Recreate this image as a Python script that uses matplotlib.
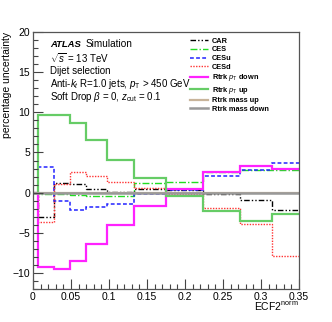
import matplotlib
matplotlib.use("Agg")
import matplotlib.pyplot as plt
from matplotlib.lines import Line2D
from matplotlib.ticker import MultipleLocator
import numpy as np

plt.rcParams['font.family'] = ['Liberation Sans', 'DejaVu Sans']
plt.rcParams['mathtext.fontset'] = 'custom'
plt.rcParams['mathtext.rm'] = 'Liberation Sans'
plt.rcParams['mathtext.it'] = 'Liberation Sans:italic'
plt.rcParams['mathtext.bf'] = 'Liberation Sans:bold'

# bin edges of ECF2^norm and per-bin percentage uncertainties
edges = [0, 0.007, 0.028, 0.049, 0.07, 0.098, 0.133, 0.175, 0.224, 0.273, 0.315, 0.35]
car = [0, -3.0, 1.25, 1.05, 0.5, 0.05, 0.4, 0.35, -0.12, -0.95, -2.2]
ces = [0, -0.17, -0.2, -0.33, -0.37, -0.42, 1.17, 1.33, 2.6, 2.8, 2.8]
cesu = [0, 3.2, -1.07, -2.15, -1.75, -1.4, -0.2, 0.33, 2.08, 2.87, 3.74]
cesd = [0, -3.6, 1.05, 2.6, 2.1, 1.37, 0.55, -0.15, -1.95, -3.86, -7.9]
rtrk_pt_down = [0, -9.2, -9.5, -8.5, -6.35, -4.05, -1.65, 0.45, 2.54, 3.33, 3.0]
rtrk_pt_up = [0, 9.7, 9.7, 8.65, 6.5, 4.03, 1.78, -0.42, -2.32, -3.53, -2.66]
rtrk_mass_up = [0] * 11
rtrk_mass_down = [0] * 11

series = [
    ("CAR", car, "black", (0, (4, 1.5, 1, 1.5, 1, 1.5)), 1.0),
    ("CES", ces, "#22dd22", (0, (5, 1.5, 1, 1.5)), 1.0),
    ("CESu", cesu, "#2222ff", (0, (2.5, 1.5)), 1.1),
    ("CESd", cesd, "#ff3333", (0, (1, 1)), 1.0),
    ("Rtrk $p_{\\rm T}$ down", rtrk_pt_down, "#ff22ff", "-", 1.6),
    ("Rtrk $p_{\\rm T}$ up", rtrk_pt_up, "#66cc66", "-", 1.6),
    ("Rtrk mass up", rtrk_mass_up, "#c8b49a", "-", 1.6),
    ("Rtrk mass down", rtrk_mass_down, "#999999", "-", 1.8),
]

fig = plt.figure(figsize=(3.32, 3.22), dpi=100)
ax = fig.add_axes([33 / 332, 1 - 289 / 322, 266 / 332, 257 / 322])

handles = []
for label, vals, col, ls, lw in series:
    ax.stairs(vals, edges, baseline=None, color=col, linestyle=ls, linewidth=lw)
    handles.append(Line2D([], [], color=col, linestyle=ls, linewidth=lw, label=label))

ax.set_xlim(0, 0.35)
ax.set_ylim(-12, 20)
ax.xaxis.set_minor_locator(MultipleLocator(0.01))
ax.yaxis.set_minor_locator(MultipleLocator(1))
ax.set_xticks(np.arange(0, 0.351, 0.05))
ax.set_xticklabels(["0", "0.05", "0.1", "0.15", "0.2", "0.25", "0.3", "0.35"])
ax.set_yticks([-10, -5, 0, 5, 10, 15, 20])
ax.set_yticklabels(["\u221210", "\u22125", "0", "5", "10", "15", "20"])
ax.tick_params(which='both', direction='in', top=False, right=False, labelsize=7.5, pad=2,
               color='#444444')
ax.tick_params(which='major', length=7, width=0.8)
ax.tick_params(which='minor', length=3.5, width=0.8)
for s in ax.spines.values():
    s.set_color('#555555')
    s.set_linewidth(0.9)

ax.set_ylabel("percentage uncertainty", fontsize=7.5, loc='top', labelpad=0.3)
ax.set_xlabel("ECF2$^{\\rm norm}$", fontsize=7.5, loc='right', labelpad=-1)

# ATLAS label block
tx = 50 / 332
fig.text(tx, 1 - 44.3 / 322, "ATLAS", fontsize=6.8, fontweight='bold', style='italic', va='center')
fig.text(86 / 332, 1 - 44.3 / 322, "Simulation", fontsize=7.2, va='center')
lines = [
    "$\\sqrt{s}$ = 13 TeV",
    "Dijet selection",
    "Anti-$k_{t}$ R=1.0 jets, $p_{\\rm T}$ > 450 GeV",
    "Soft Drop $\\beta$ = 0, $z_{\\rm cut}$ = 0.1",
]
for i, t in enumerate(lines):
    fig.text(tx, 1 - (57.7 + 13 * i) / 322, t, fontsize=7, va='center')

fig.legend(handles=handles, loc='upper left', bbox_to_anchor=(186 / 332, 1 - 34 / 322),
           frameon=False, prop={'weight': 'bold', 'size': 5.3},
           handlelength=2.5, handletextpad=0.55, labelspacing=0.2, borderpad=0)

fig.savefig("out.png", dpi=100)
